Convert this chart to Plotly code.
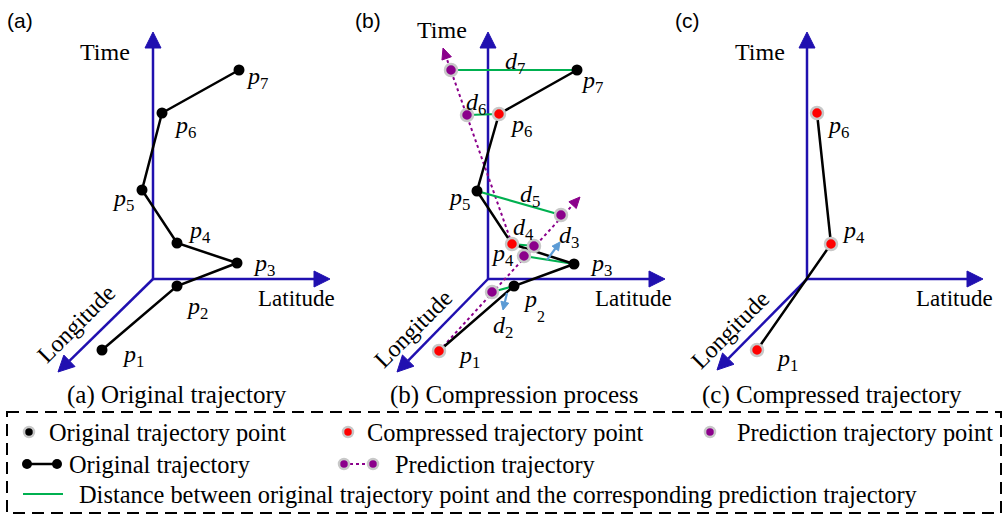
import plotly.graph_objects as go
import numpy as np

W, H = 1007, 515
SERIF = "Liberation Serif"
AX_COLOR = "#2010b0"
PURPLE = "#8b008b"
GREEN = "#00b050"
LBLUE = "#5b9bd5"
HALO = "#c8c8c8"

# ---------- data (pixel-space positions) ----------
# axes per panel: origin, time tip, latitude tip, longitude tip
panel_origin_x = [153, 488, 807]
panel_origin_y = [279, 279, 279]
time_tip_y = [32, 32, 32]
lat_tip_x = [330, 665, 983]
lon_tip_x = [58, 397, 717]
lon_tip_y = [372, 372, 370]

# panel (a) original trajectory p1..p7
a_x = [102, 177, 237, 177, 142, 162, 239]
a_y = [350, 286, 263, 243, 190, 113, 70]

# panel (b) original trajectory p1..p7
b_x = [439, 514, 574, 512, 477, 499, 577]
b_y = [351, 286, 264, 244, 191, 114, 70]
b_compressed = [0, 3, 5]          # p1, p4, p6
# prediction points for p2..p7
pred_x = [492, 524, 534, 561, 467, 451]
pred_y = [292, 256, 246, 215, 115, 70]
pred_of = [1, 2, 3, 4, 5, 6]
# prediction rays: start index into b points, arrow tip
ray_start = [0, 3]
ray_tip_x = [580, 443]
ray_tip_y = [197, 48]
# small light-blue arrows (tail -> tip)
blue_tail_x = [547, 507]
blue_tail_y = [260, 293]
blue_tip_x = [560, 503]
blue_tip_y = [242, 310]

# panel (c) compressed trajectory p1, p4, p6
c_x = [757, 831, 817]
c_y = [350, 244, 113]

# labels
p_labels_a = [("1", 133, 356), ("2", 197, 308), ("3", 264, 265), ("4", 199, 232),
              ("5", 123, 200), ("6", 185, 127), ("7", 257, 78)]
p_labels_b = [("1", 469, 357), ("3", 601, 265), ("4", 502, 255),
              ("5", 459, 199), ("6", 521, 126), ("7", 592, 82)]
d_labels_b = [("2", 503, 327), ("3", 569, 237), ("4", 523, 229),
              ("5", 530, 196), ("6", 476, 104), ("7", 515, 63)]
p_labels_c = [("1", 787, 360), ("4", 853, 232), ("6", 838, 127)]

time_lbl_x = [105, 442, 760]
time_lbl_y = [52, 30, 52]
lat_lbl_x = [296, 633, 954]
lon_lbl_x = [76, 413, 730]
lon_lbl_y = [324, 329, 330]
panel_tags = ["(a)", "(b)", "(c)"]
panel_tag_x = [20, 368, 687]
captions = ["(a) Original trajectory", "(b) Compression process", "(c) Compressed trajectory"]
caption_x = [177, 514, 832]

legend_items = ["Original trajectory point", "Compressed trajectory point",
                "Prediction trajectory point", "Original trajectory",
                "Prediction trajectory",
                "Distance between original trajectory point and the corresponding prediction trajectory"]

fig = go.Figure()


def line(xs, ys, color, width, dash="solid"):
    fig.add_trace(go.Scatter(x=xs, y=ys, mode="lines",
                             line=dict(color=color, width=width, dash=dash),
                             hoverinfo="skip", showlegend=False))


def head(tx, ty, fx, fy, length, width, color):
    d = np.array([tx - fx, ty - fy], float)
    d /= np.linalg.norm(d)
    n = np.array([-d[1], d[0]])
    base = np.array([tx, ty]) - d * length
    p1 = base + n * width / 2
    p2 = base - n * width / 2
    fig.add_trace(go.Scatter(x=[tx, p1[0], p2[0], tx], y=[ty, p1[1], p2[1], ty],
                             mode="lines", fill="toself", fillcolor=color,
                             line=dict(color=color, width=1),
                             hoverinfo="skip", showlegend=False))
    return base


def arrow(fx, fy, tx, ty, color, width, hl, hw, dash="solid"):
    base = head(tx, ty, fx, fy, hl, hw, color)
    line([fx, base[0]], [fy, base[1]], color, width, dash)


def pts(xs, ys, color, size, halo=False):
    fig.add_trace(go.Scatter(x=xs, y=ys, mode="markers",
                             marker=dict(color=color, size=size,
                                         line=dict(color=HALO if halo else color,
                                                   width=2.5 if halo else 0)),
                             hoverinfo="skip", showlegend=False))


def text(t, x, y, size=23, family=SERIF, anchor="center", angle=0, color="black"):
    fig.add_annotation(x=x, y=y, text=t, showarrow=False, xanchor=anchor,
                       yanchor="middle", textangle=angle,
                       font=dict(family=family, size=size, color=color))


# ---------- axes ----------
for i in range(3):
    ox, oy = panel_origin_x[i], panel_origin_y[i]
    arrow(ox, oy, ox, time_tip_y[i], AX_COLOR, 2.5, 16, 16)
    arrow(ox, oy, lat_tip_x[i], oy, AX_COLOR, 2.5, 16, 16)
    arrow(ox, oy, lon_tip_x[i], lon_tip_y[i], AX_COLOR, 2.5, 16, 16)
    text("Time", time_lbl_x[i], time_lbl_y[i], size=24)
    text("Latitude", lat_lbl_x[i], 298, size=23)
    text("Longitude", lon_lbl_x[i], lon_lbl_y[i], size=24, angle=-45)
    text(panel_tags[i], panel_tag_x[i], 20, size=21, family="Liberation Sans")
    text(captions[i], caption_x[i], 395, size=25)

# ---------- panel (a) ----------
line(a_x, a_y, "black", 2.5)
pts(a_x, a_y, "black", 11)
for s, x, y in p_labels_a:
    text("<i>p</i><sub>%s</sub>" % s, x, y, size=24)

# ---------- panel (b) ----------
# prediction rays (dotted purple with arrows)
for k in range(2):
    s = ray_start[k]
    arrow(b_x[s], b_y[s], ray_tip_x[k], ray_tip_y[k], PURPLE, 2, 11, 10, dash="3px,3px")
# distance lines
for k in range(len(pred_x)):
    j = pred_of[k]
    line([b_x[j], pred_x[k]], [b_y[j], pred_y[k]], GREEN, 2.2)
line(b_x, b_y, "black", 2.5)
for k in range(2):
    arrow(blue_tail_x[k], blue_tail_y[k], blue_tip_x[k], blue_tip_y[k], LBLUE, 2.2, 8, 8)
orig_idx = [i for i in range(7) if i not in b_compressed]
pts([b_x[i] for i in orig_idx], [b_y[i] for i in orig_idx], "black", 11)
pts([b_x[i] for i in b_compressed], [b_y[i] for i in b_compressed], "#ff0000", 12, halo=True)
pts(pred_x, pred_y, PURPLE, 12, halo=True)
for s, x, y in p_labels_b:
    text("<i>p</i><sub>%s</sub>" % s, x, y, size=24)
text("<i>p</i>", 530, 299, size=24)
text("2", 541, 316, size=16)
for s, x, y in d_labels_b:
    text("<i>d</i><sub>%s</sub>" % s, x, y, size=24)

# ---------- panel (c) ----------
line(c_x, c_y, "black", 2.5)
pts(c_x, c_y, "#ff0000", 12, halo=True)
for s, x, y in p_labels_c:
    text("<i>p</i><sub>%s</sub>" % s, x, y, size=24)

# ---------- legend box ----------
LEG = 24.4
fig.add_shape(type="rect", x0=7, x1=1001, y0=412, y1=513,
              line=dict(color="black", width=2, dash="12px,7px"))
pts([29], [432], "black", 10, halo=True)
text(legend_items[0], 47, 432, size=LEG, anchor="left")
pts([348], [432], "#ff0000", 10, halo=True)
text(legend_items[1], 365, 432, size=LEG, anchor="left")
pts([710], [432], PURPLE, 10, halo=True)
text(legend_items[2], 735, 432, size=LEG, anchor="left")
line([27, 57], [464, 464], "black", 2.5)
pts([27, 57], [464, 464], "black", 10)
text(legend_items[3], 67, 464, size=LEG, anchor="left")
line([344, 373], [464, 464], PURPLE, 2, dash="3px,3px")
pts([344, 373], [464, 464], PURPLE, 10, halo=True)
text(legend_items[4], 393, 464, size=LEG, anchor="left")
line([23, 63], [494, 494], GREEN, 2)
text(legend_items[5], 77, 494, size=LEG, anchor="left")

fig.update_layout(width=W, height=H, margin=dict(l=0, r=0, t=0, b=0, pad=0),
                  paper_bgcolor="white", plot_bgcolor="white",
                  xaxis=dict(range=[0, W], visible=False, fixedrange=True),
                  yaxis=dict(range=[H, 0], visible=False, fixedrange=True),
                  showlegend=False)
fig.write_html("out.html", config={"displayModeBar": False})
